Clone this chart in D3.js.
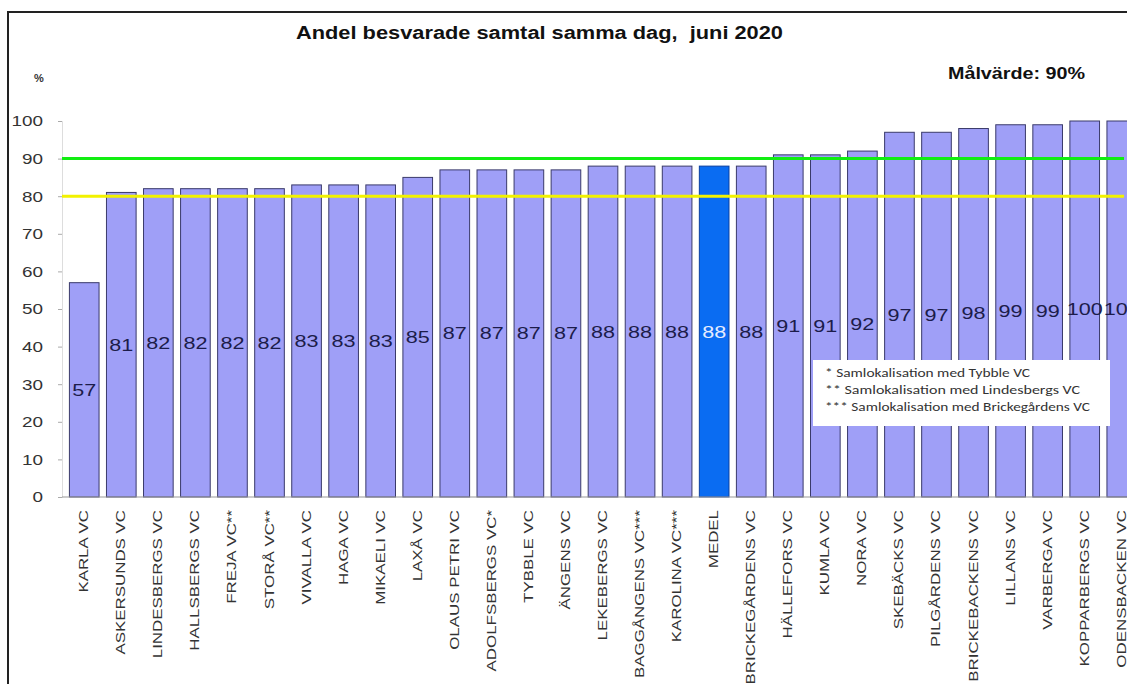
<!DOCTYPE html>
<html><head><meta charset="utf-8">
<script src="https://cdn.jsdelivr.net/npm/d3@7"></script>
<style>body{margin:0;background:#fff;}svg{display:block;font-family:Arial,"Liberation Sans",sans-serif;}</style>
</head><body>
<svg id="c" width="1127" height="684"></svg>
<script>
const categories = ["KARLA VC","ASKERSUNDS VC","LINDESBERGS VC","HALLSBERGS VC","FREJA VC**","STORÅ VC**","VIVALLA VC","HAGA VC","MIKAELI VC","LAXÅ VC","OLAUS PETRI VC","ADOLFSBERGS VC*","TYBBLE VC","ÄNGENS VC","LEKEBERGS VC","BAGGÅNGENS VC***","KAROLINA VC***","MEDEL","BRICKEGÅRDENS VC","HÄLLEFORS VC","KUMLA VC","NORA VC","SKEBÄCKS VC","PILGÅRDENS VC","BRICKEBACKENS VC","LILLANS VC","VARBERGA VC","KOPPARBERGS VC","ODENSBACKEN VC"];
const values = [57,81,82,82,82,82,83,83,83,85,87,87,87,87,88,88,88,88,88,91,91,92,97,97,98,99,99,100,100];
const targetValue = 90;
const lowerValue = 80;
const yTicks = [0,10,20,30,40,50,60,70,80,90,100];
const notes = ["* Samlokalisation med Tybble VC","** Samlokalisation med Lindesbergs VC","*** Samlokalisation med Brickegårdens VC"];

const svg = d3.select("#c");
const x = d3.scaleBand().domain(categories).range([62,1144]).padding(0.2);
const y = d3.scaleLinear().domain([0,100]).range([497,121]);

// frame
svg.append("path").attr("d","M8,684V12H1127").attr("fill","none").attr("stroke","#222").attr("stroke-width",2);

// title
svg.append("text").attr("x",296).attr("y",39).attr("font-weight","bold").attr("font-size",18).attr("fill","#111")
  .attr("textLength",487).attr("lengthAdjust","spacingAndGlyphs").style("white-space","pre")
  .text("Andel besvarade samtal samma dag,  juni 2020");
svg.append("text").attr("x",948).attr("y",79).attr("font-weight","bold").attr("font-size",16).attr("fill","#111")
  .attr("textLength",137).attr("lengthAdjust","spacingAndGlyphs").text("Målvärde: 90%");
svg.append("text").attr("x",34).attr("y",82).attr("font-size",11).attr("font-weight","bold").attr("fill","#333").text("%");

// y axis
const ya = svg.append("g").attr("transform","translate(62,0)").call(d3.axisLeft(y).tickValues(yTicks).tickSize(4).tickPadding(15));
ya.select(".domain").attr("stroke","#ddd");
ya.selectAll("line").attr("stroke","#aaa");
ya.selectAll("text").attr("font-size",15).attr("fill","#333").attr("font-family","Arial,'Liberation Sans',sans-serif")
  .attr("textLength",d=>String(d).length*10.5).attr("lengthAdjust","spacingAndGlyphs");

// bars
svg.append("g").selectAll("rect").data(values).join("rect")
  .attr("x",(d,i)=>x(categories[i])).attr("y",d=>y(d))
  .attr("width",x.bandwidth()).attr("height",d=>y(0)-y(d))
  .attr("fill",(d,i)=>categories[i]==="MEDEL"?"#0a6cf2":"#9f9ff7")
  .attr("stroke",(d,i)=>categories[i]==="MEDEL"?"#0a3fa0":"#3a3a6a").attr("stroke-width",1);

// x axis baseline
svg.append("line").attr("x1",62).attr("x2",1127).attr("y1",y(0)).attr("y2",y(0)).attr("stroke","#999");

// reference lines
svg.append("line").attr("x1",62).attr("x2",1124).attr("y1",y(targetValue)).attr("y2",y(targetValue)).attr("stroke","#11ee11").attr("stroke-width",3);
svg.append("line").attr("x1",62).attr("x2",1124).attr("y1",y(lowerValue)).attr("y2",y(lowerValue)).attr("stroke","#f2f200").attr("stroke-width",3);

// value labels
svg.append("g").selectAll("text").data(values).join("text")
  .attr("x",(d,i)=>x(categories[i])+x.bandwidth()/2)
  .attr("y",d=>(y(d)+y(0))/2+6)
  .attr("text-anchor","middle").attr("font-size",17)
  .attr("textLength",d=>String(d).length*12).attr("lengthAdjust","spacingAndGlyphs")
  .attr("fill",(d,i)=>categories[i]==="MEDEL"?"#e6ecff":"#1c1c4a")
  .text(d=>d);

// category labels
svg.append("g").selectAll("text").data(categories).join("text")
  .attr("transform",d=>`translate(${x(d)+x.bandwidth()/2+4},510) rotate(-90) scale(1.3,1)`)
  .attr("text-anchor","end").attr("font-size",13).attr("fill","#333")
  .text(d=>d);

// notes box
const nb = svg.append("g");
nb.append("rect").attr("x",813).attr("y",360).attr("width",297).attr("height",66).attr("fill","#fff");
const noteLen = [205,255,265];
nb.selectAll("text").data(notes).join("text")
  .attr("x",825).attr("y",(d,i)=>377+i*17).attr("font-size",12)
  .attr("textLength",(d,i)=>noteLen[i]).attr("lengthAdjust","spacingAndGlyphs")
  .attr("font-family","Carlito,'Open Sans','Liberation Sans',sans-serif").attr("fill","#333")
  .text(d=>d);
</script>
</body></html>
